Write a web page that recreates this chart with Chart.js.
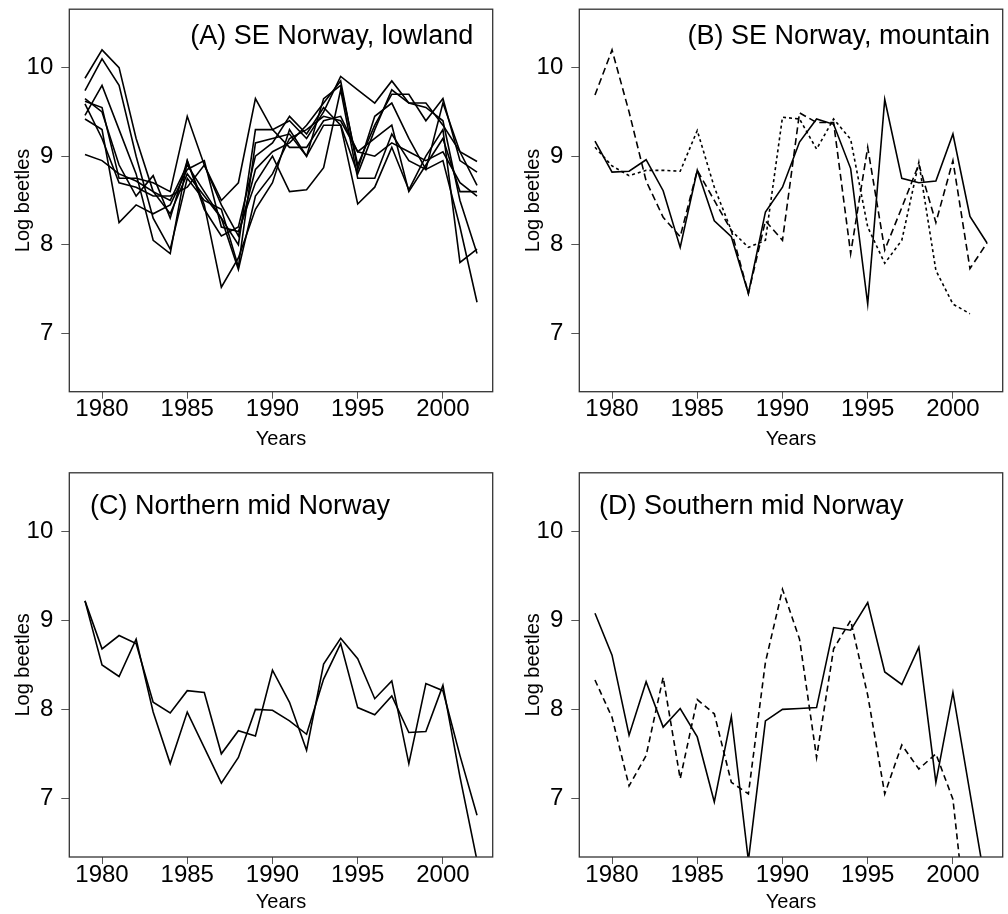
<!DOCTYPE html>
<html>
<head>
<meta charset="utf-8">
<script src="https://cdn.jsdelivr.net/npm/chart.js@4.4.1/dist/chart.umd.min.js"></script>
<style>
  body { margin: 0; background: #fff; }
  canvas { position: absolute; }
</style>
</head>
<body>
<canvas id="panelA" style="left:0px;top:0px;width:510px;height:451px" width="510" height="451"></canvas>
<canvas id="panelB" style="left:510px;top:0px;width:498px;height:451px" width="498" height="451"></canvas>
<canvas id="panelC" style="left:0px;top:460px;width:510px;height:454px" width="510" height="454"></canvas>
<canvas id="panelD" style="left:510px;top:460px;width:498px;height:454px" width="498" height="454"></canvas>
<script>
// years 1979 - 2002
var years = [1979,1980,1981,1982,1983,1984,1985,1986,1987,1988,1989,1990,
             1991,1992,1993,1994,1995,1996,1997,1998,1999,2000,2001,2002];
var xTicks = [1980, 1985, 1990, 1995, 2000];
var yTicks = [7, 8, 9, 10];

// (A) SE Norway, lowland
var lowland1 = [9.88,10.2,10.0,9.2,8.6,8.5,8.9,8.6,8.3,8.0,9.3,9.3,9.4,9.2,9.5,9.9,9.75,9.6,9.85,9.6,9.6,9.35,9.05,8.94];
var lowland2 = [9.74,10.1,9.8,9.0,8.3,7.95,8.75,8.5,8.4,7.75,9.15,9.2,9.25,9.0,9.65,9.8,8.9,9.35,9.7,9.7,9.4,9.65,8.95,8.82];
var lowland3 = [9.46,9.8,9.3,8.8,8.05,7.9,8.95,8.45,7.52,7.85,8.4,8.7,9.3,9.0,9.35,9.35,8.46,8.65,9.1,8.62,9.0,9.3,7.8,7.95];
var lowland4 = [9.62,9.55,8.75,8.75,8.7,8.6,9.45,8.9,8.5,8.7,9.65,9.3,9.1,9.1,9.4,9.45,9.05,9.2,9.35,8.6,8.9,9.2,8.6,8.6];
var lowland5 = [9.65,9.5,8.9,8.55,8.78,8.3,8.95,8.4,8.1,8.2,9.0,9.15,9.45,9.25,9.55,9.35,8.8,9.3,9.75,9.6,9.55,9.4,8.5,7.9];
var lowland6 = [9.42,9.3,8.25,8.45,8.35,8.45,8.85,8.95,8.2,8.15,8.7,9.0,8.6,8.62,8.87,9.75,8.75,8.75,9.25,8.95,8.85,8.95,8.2,7.35];
var lowland7 = [9.59,9.2,8.7,8.65,8.55,8.55,8.65,8.9,8.45,8.1,8.85,9.05,9.15,9.35,9.6,9.85,8.85,9.45,9.6,9.2,8.85,9.6,9.05,8.67];
var lowland8 = [9.02,8.95,8.8,8.72,8.6,8.35,8.8,8.55,8.3,7.72,8.55,8.8,9.2,9.3,9.45,9.4,9.05,9.0,9.15,9.05,8.95,9.05,8.7,8.55];

// (B) SE Norway, mountain
var mountainSolid  = [9.17,8.82,8.83,8.96,8.61,7.97,8.84,8.27,8.09,7.45,8.37,8.65,9.16,9.42,9.36,8.86,7.33,9.64,8.75,8.70,8.72,9.25,8.32,8.02];
var mountainDashed = [9.69,10.2,9.5,8.72,8.31,8.09,8.84,8.5,8.16,7.45,8.27,8.05,9.49,9.38,9.38,7.90,9.1,7.94,8.42,8.91,8.25,8.95,7.73,8.02];
var mountainDotted = [9.1,8.89,8.78,8.84,8.84,8.83,9.29,8.65,8.16,7.97,8.05,9.44,9.42,9.08,9.42,9.19,8.2,7.79,8.05,8.93,7.71,7.33,7.22,null];

// (C) Northern mid Norway
var northern1 = [9.22,8.68,8.83,8.74,8.08,7.96,8.21,8.19,7.5,7.76,7.70,8.44,8.08,7.54,8.51,8.80,8.57,8.12,8.32,7.39,8.29,8.21,7.48,6.81];
var northern2 = [9.22,8.5,8.37,8.79,7.97,7.39,7.97,7.57,7.17,7.46,8.0,7.99,7.87,7.72,8.34,8.74,8.02,7.94,8.15,7.74,7.75,8.27,7.24,6.3];

// (D) Southern mid Norway
var southernSolid  = [9.08,8.61,7.71,8.31,7.80,8.01,7.69,6.96,7.92,6.3,7.87,8.0,8.01,8.02,8.92,8.89,9.20,8.42,8.28,8.70,7.18,8.19,7.06,5.93];
var southernDashed = [8.33,7.91,7.14,7.48,8.36,7.22,8.11,7.95,7.18,7.05,8.53,9.35,8.79,7.46,8.68,9.0,8.16,7.05,7.6,7.33,7.5,6.99,5.23,null];

var FONT = "'Liberation Sans', Arial, Helvetica, sans-serif";
Chart.defaults.font.family = FONT;
Chart.defaults.color = '#000';

// box round the plot area and the panel label
var panelLabel = {
  id: 'panelLabel',
  afterDraw: function(chart, args, opts) {
    var ctx = chart.ctx, a = chart.chartArea;
    ctx.save();
    ctx.strokeStyle = '#333';
    ctx.lineWidth = 1.3;
    ctx.strokeRect(a.left, a.top, a.right - a.left, a.bottom - a.top);
    ctx.fillStyle = '#000';
    ctx.font = '27px ' + FONT;
    ctx.textBaseline = 'alphabetic';
    if (opts.align === 'right') {
      ctx.textAlign = 'right';
      ctx.fillText(opts.text, a.right - opts.dx, a.top + opts.dy);
    } else {
      ctx.textAlign = 'left';
      ctx.fillText(opts.text, a.left + opts.dx, a.top + opts.dy);
    }
    ctx.restore();
  }
};

function series(values, dash) {
  return {
    data: values.map(function(v, i) { return {x: years[i], y: v}; }),
    borderColor: '#000',
    borderWidth: 1.6,
    borderDash: dash || [],
    pointRadius: 0,
    fill: false,
    tension: 0,
    spanGaps: false
  };
}

function makePanel(id, sets, label, pad, axisHeight) {
  new Chart(document.getElementById(id), {
    type: 'line',
    data: { datasets: sets },
    options: {
      responsive: false,
      animation: false,
      layout: { padding: pad },
      plugins: {
        legend: { display: false },
        tooltip: { enabled: false },
        panelLabel: label
      },
      scales: {
        x: {
          type: 'linear',
          min: 1978.08,
          max: 2002.92,
          afterBuildTicks: function(s) { s.ticks = xTicks.map(function(v) { return {value: v}; }); },
          afterFit: function(s) { s.height = axisHeight; },
          grid: { drawOnChartArea: false, drawTicks: true, tickLength: 7, color: '#555' },
          border: { display: false },
          ticks: {
            font: { size: 24, lineHeight: 1 }, padding: -1, maxRotation: 0, autoSkip: false,
            callback: function(v) { return String(v); }
          },
          title: { display: true, text: 'Years', font: { size: 20, lineHeight: 1.2 }, padding: { top: 0, bottom: 0 } }
        },
        y: {
          min: 6.34,
          max: 10.66,
          afterBuildTicks: function(s) { s.ticks = yTicks.map(function(v) { return {value: v}; }); },
          afterFit: function(s) { s.width = 69.3; },
          grid: { drawOnChartArea: false, drawTicks: true, tickLength: 8, color: '#555' },
          border: { display: false },
          ticks: { font: { size: 24, lineHeight: 0.1 }, padding: 8, callback: function(v) { return String(v); } },
          title: { display: true, text: 'Log beetles', font: { size: 20, lineHeight: 1.2 }, padding: { top: 11, bottom: 0 } }
        }
      }
    },
    plugins: [panelLabel]
  });
}

makePanel('panelA', [
  series(lowland1), series(lowland2), series(lowland3), series(lowland4),
  series(lowland5), series(lowland6), series(lowland7), series(lowland8)
], { text: '(A) SE Norway, lowland', align: 'right', dx: 19.4, dy: 35 },
  { top: 7.1, right: 17.3, left: 0, bottom: 0 }, 59.3);

makePanel('panelB', [
  series(mountainSolid), series(mountainDashed, [7, 4]), series(mountainDotted, [3, 3])
], { text: '(B) SE Norway, mountain', align: 'right', dx: 12.7, dy: 35 },
  { top: 7.1, right: 5.3, left: 0, bottom: 0 }, 59.3);

makePanel('panelC', [
  series(northern1), series(northern2)
], { text: '(C) Northern mid Norway', align: 'left', dx: 20.7, dy: 41 },
  { top: 12.8, right: 17.3, left: 0, bottom: 0 }, 57);

makePanel('panelD', [
  series(southernSolid), series(southernDashed, [6, 4])
], { text: '(D) Southern mid Norway', align: 'left', dx: 19.7, dy: 41 },
  { top: 12.8, right: 5.3, left: 0, bottom: 0 }, 57);
</script>
</body>
</html>
